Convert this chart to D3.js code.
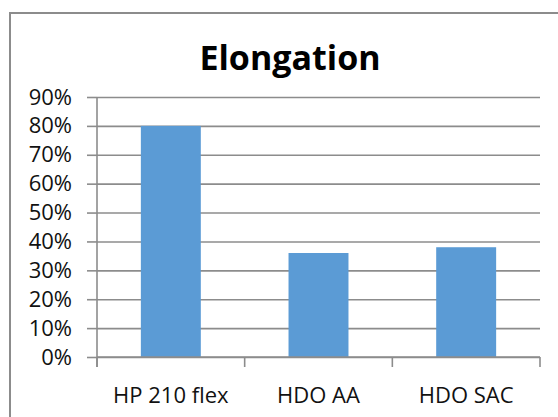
<!DOCTYPE html>
<html>
<head>
<meta charset="utf-8">
<script src="https://cdn.jsdelivr.net/npm/d3@7"></script>
<style>
  body { margin: 0; background: #fff; }
  svg { display: block; }
</style>
</head>
<body>
<svg></svg>
<script>
// data
const categories = ["HP 210 flex", "HDO AA", "HDO SAC"];
const values = [0.80, 0.36, 0.38];
const yTicks = [0, 0.1, 0.2, 0.3, 0.4, 0.5, 0.6, 0.7, 0.8, 0.9];
const title = "Elongation";

const width = 558;
const height = 417;
const margin = { top: 97, right: 18, bottom: 60, left: 97 };
const plotW = width - margin.left - margin.right;
const plotH = height - margin.top - margin.bottom;
const gridColor = "#8c8c8c";
const font = "'Open Sans', 'Noto Sans', sans-serif";

const svg = d3.select("svg")
    .attr("width", width)
    .attr("height", height);

// chart area border (runs off the right / bottom edge like the original)
svg.append("rect")
    .attr("x", 10).attr("y", 13)
    .attr("width", 600).attr("height", 500)
    .attr("fill", "none")
    .attr("stroke", gridColor)
    .attr("stroke-width", 2);

svg.append("text")
    .attr("x", 290).attr("y", 70)
    .attr("text-anchor", "middle")
    .style("font-family", font)
    .style("font-size", "34px")
    .style("font-weight", "bold")
    .style("fill", "#000")
    .text(title);

const g = svg.append("g")
    .attr("transform", `translate(${margin.left},${margin.top})`);

const x = d3.scaleBand()
    .domain(categories)
    .range([0, plotW])
    .paddingInner(0.594)
    .paddingOuter(0.297);

const y = d3.scaleLinear()
    .domain([0, 0.9])
    .range([plotH, 0]);

// gridlines
g.append("g")
    .call(d3.axisLeft(y).tickValues(yTicks).tickSize(-plotW).tickFormat(""))
    .call(s => s.select(".domain").remove())
    .selectAll("line")
    .attr("stroke", gridColor)
    .attr("stroke-width", 1.6);

// bars
g.selectAll(".bar")
    .data(values)
    .enter()
    .append("rect")
    .attr("class", "bar")
    .attr("x", (d, i) => x(categories[i]))
    .attr("y", d => y(d))
    .attr("width", x.bandwidth())
    .attr("height", d => y(0) - y(d))
    .attr("fill", "#5b9bd5");

// y axis
const yAxis = g.append("g")
    .call(d3.axisLeft(y).tickValues(yTicks).tickSize(10).tickPadding(15)
        .tickFormat(d3.format(".0%")));
yAxis.select(".domain").remove();
yAxis.selectAll("line").attr("stroke", gridColor).attr("stroke-width", 1.6);
yAxis.selectAll("text")
    .style("font-family", font)
    .style("font-size", "22px")
    .style("fill", "#111");

// vertical axis line, extends down to the category tick length
g.append("line")
    .attr("x1", 0).attr("x2", 0)
    .attr("y1", y(0.9)).attr("y2", plotH + 10)
    .attr("stroke", gridColor)
    .attr("stroke-width", 1.6);

// x axis: baseline line, ticks between categories, labels centred
g.append("line")
    .attr("x1", 0).attr("x2", plotW)
    .attr("y1", y(0)).attr("y2", y(0))
    .attr("stroke", gridColor)
    .attr("stroke-width", 1.6);

const edges = categories.map(c => x(c) - x.step() * x.paddingInner() / 2).concat([plotW]);
g.selectAll(".xtick")
    .data(edges)
    .enter()
    .append("line")
    .attr("class", "xtick")
    .attr("x1", d => d).attr("x2", d => d)
    .attr("y1", plotH).attr("y2", plotH + 10)
    .attr("stroke", gridColor)
    .attr("stroke-width", 1.6);

const xAxis = g.append("g")
    .attr("transform", `translate(0,${plotH})`)
    .call(d3.axisBottom(x).tickSize(0).tickPadding(30));
xAxis.select(".domain").remove();
xAxis.selectAll("text")
    .style("font-family", font)
    .style("font-size", "22px")
    .style("fill", "#111");
</script>
</body>
</html>
